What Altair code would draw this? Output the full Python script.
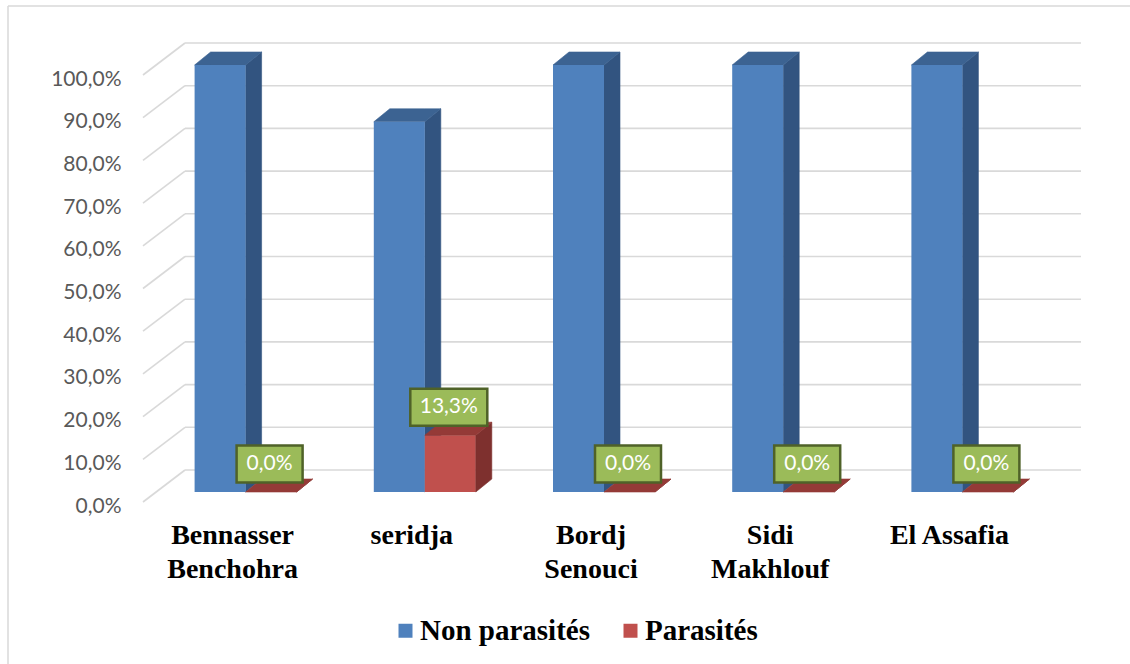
import altair as alt
import pandas as pd

# ---- data -------------------------------------------------------------
categories = ["Bennasser\nBenchohra", "seridja", "Bordj\nSenouci", "Sidi\nMakhlouf", "El Assafia"]
series = ["Non parasités", "Parasités"]
non_parasites = [100.0, 86.7, 100.0, 100.0, 100.0]
parasites = [0.0, 13.3, 0.0, 0.0, 0.0]
y_ticks = [0, 10, 20, 30, 40, 50, 60, 70, 80, 90, 100]

# ---- style ------------------------------------------------------------
FRONT = {"Non parasités": "#4F81BD", "Parasités": "#C0504D"}
SIDE = {"Non parasités": "#325480", "Parasités": "#7E302E"}
TOP = {"Non parasités": "#3C6392", "Parasités": "#943A37"}
GRID = "#D9D9D9"
LABEL_FILL = "#9BBB59"
LABEL_EDGE = "#4F6228"
SERIF = "Liberation Serif"

W, H = 896, 427                 # plot area (front plane of the 3-D box)
PX_X = W / len(categories)      # pixels per category slot
PX_Y = H / 100.0                # pixels per percentage point


def depth(dx_px, dy_px):
    """Oblique pixel offset -> offset in data units."""
    return dx_px / PX_X, -dy_px / PX_Y


BAR_FRONT = depth(13, -10)
BAR_BACK = depth(29, -23)
WALL = depth(42, -32)
BAR_W = 51 / PX_X

x_scale = alt.Scale(domain=[0, len(categories)], nice=False, zero=False)
y_scale = alt.Scale(domain=[0, 100], nice=False, zero=False)
y_axis = alt.Axis(
    values=y_ticks, grid=False, domain=False, ticks=False, labelPadding=22,
    labelOffset=4, labelFont="Lato", labelFontSize=21, labelColor="#595959",
    labelExpr="replace(format(datum.value, '.1f'), '.', ',') + '%'", title=None)

# ---- geometry of the 3-D bars ------------------------------------------
fronts, sides, tops, boxes = [], [], [], []
values = {"Non parasités": non_parasites, "Parasités": parasites}
fx, fy = BAR_FRONT
bx, by = BAR_BACK
for s_idx, s in enumerate(series):
    for i, cat in enumerate(categories):
        v = values[s][i]
        x0 = i + 0.5 - BAR_W + s_idx * BAR_W
        x1 = x0 + BAR_W
        fronts.append({"Série": s, "x": x0 + fx, "x2": x1 + fx, "y": fy, "y2": v + fy})
        face = f"{s}-{i}"
        sides += [
            {"face": face, "s": s, "fill": SIDE[s], "x": x1 + fx, "y": v + fy, "y2": fy},
            {"face": face, "s": s, "fill": SIDE[s], "x": x1 + bx, "y": v + by, "y2": by},
        ]
        tops += [
            {"face": face, "s": s, "fill": TOP[s], "x": x0 + fx, "y": v + fy, "y2": v + fy},
            {"face": face, "s": s, "fill": TOP[s], "x": x0 + bx, "y": v + by, "y2": v + fy},
            {"face": face, "s": s, "fill": TOP[s], "x": x1 + fx, "y": v + by, "y2": v + fy},
            {"face": face, "s": s, "fill": TOP[s], "x": x1 + bx, "y": v + by, "y2": v + by},
        ]
        if s == "Parasités":
            text = f"{v:.1f}".replace(".", ",") + "%"
            half_w = (22 + 11 * len(text)) / 2 / PX_X
            half_h = 18.5 / PX_Y
            cx = (x0 + x1) / 2 + fx - 1.5 / PX_X
            cy = v + fy + 28 / PX_Y
            boxes.append({"x": cx - half_w, "x2": cx + half_w, "y": cy - half_h,
                          "y2": cy + half_h, "cx": cx, "cy": cy, "text": text})

fronts = pd.DataFrame(fronts)
sides = pd.DataFrame(sides)
tops = pd.DataFrame(tops)
boxes = pd.DataFrame(boxes)

# ---- gridlines on back wall and left side wall --------------------------
wx, wy = WALL
grid_back = pd.DataFrame({"x": [wx] * len(y_ticks), "x2": [len(categories) + wx] * len(y_ticks),
                          "y": [t + wy for t in y_ticks], "y2": [t + wy for t in y_ticks]})
grid_side = pd.DataFrame({"x": [0.0] * len(y_ticks), "x2": [wx] * len(y_ticks),
                          "y": [float(t) for t in y_ticks], "y2": [t + wy for t in y_ticks]})
grid = pd.concat([grid_back, grid_side], ignore_index=True)

X = lambda f="x": alt.X(f"{f}:Q", scale=x_scale, axis=None)
Y = lambda f="y": alt.Y(f"{f}:Q", scale=y_scale, axis=y_axis, stack=None)

axis_layer = alt.Chart(pd.DataFrame({"t": y_ticks})).mark_point(opacity=0).encode(
    x=alt.datum(0, scale=x_scale, type="quantitative", axis=None),
    y=Y("t"))

grid_layer = alt.Chart(grid).mark_rule(color=GRID, strokeWidth=1.6).encode(
    x=X(), x2="x2:Q", y=Y(), y2="y2:Q")


def faces(df, s):
    return alt.Chart(df[df["s"] == s]).mark_area(strokeWidth=0.6, clip=False).encode(
        x=X(), y=Y(), y2="y2:Q", detail="face:N",
        fill=alt.Fill("fill:N", scale=None), stroke=alt.Stroke("fill:N", scale=None))


front_layer = alt.Chart(fronts).mark_rect(strokeWidth=0).encode(
    x=X(), x2="x2:Q", y=Y(), y2="y2:Q",
    color=alt.Color("Série:N", scale=alt.Scale(domain=series, range=[FRONT[s] for s in series]),
                    legend=alt.Legend(
                        orient="none", legendX=248, legendY=541, direction="horizontal",
                        title=None, symbolType="square", symbolSize=196, symbolStrokeWidth=0,
                        symbolOpacity=1, labelFont=SERIF, labelFontWeight="bold",
                        labelFontSize=29, labelColor="#000000", labelLimit=500,
                        labelOffset=0, columnPadding=26, padding=0)))

box_layer = alt.Chart(boxes).mark_rect(fill=LABEL_FILL, stroke=LABEL_EDGE, strokeWidth=2.5).encode(
    x=X(), x2="x2:Q", y=Y(), y2="y2:Q")
box_text = alt.Chart(boxes).mark_text(font="Lato", fontSize=21, color="white",
                                      align="center", baseline="middle").encode(
    x=X("cx"), y=Y("cy"), text="text:N")

cat_df = pd.DataFrame({"x": [i + 0.5 for i in range(len(categories))],
                       "y": [0.0] * len(categories), "label": categories})
cat_layer = alt.Chart(cat_df).mark_text(
    font=SERIF, fontWeight="bold", fontSize=28, color="#000000",
    align="center", baseline="top", dy=20, lineBreak="\n", lineHeight=34).encode(
    x=X(), y=Y(), text="label:N")

frame = alt.Chart(pd.DataFrame({"k": [0]})).mark_rule(color=GRID, strokeWidth=1.5)
frame_left = frame.encode(x=alt.value(-135), y=alt.value(-69), y2=alt.value(589))
frame_top = frame.encode(x=alt.value(-135), x2=alt.value(987), y=alt.value(-69))

chart = alt.layer(
    axis_layer, frame_left, frame_top, grid_layer,
    faces(sides, "Non parasités"), faces(tops, "Non parasités"),
    front_layer,
    faces(sides, "Parasités"), faces(tops, "Parasités"),
    box_layer, box_text, cat_layer,
).properties(
    width=W, height=H,
    autosize=alt.AutoSizeParams(type="none"),
    padding={"left": 143, "top": 75, "right": 1130 - 143 - W, "bottom": 664 - 75 - H},
    background="white",
).configure_view(stroke=None).configure_legend(
    labelFont=SERIF, labelFontWeight="bold", labelFontSize=29, labelColor="#000000")

chart.save("out.html", embed_options={"renderer": "svg", "actions": False})
